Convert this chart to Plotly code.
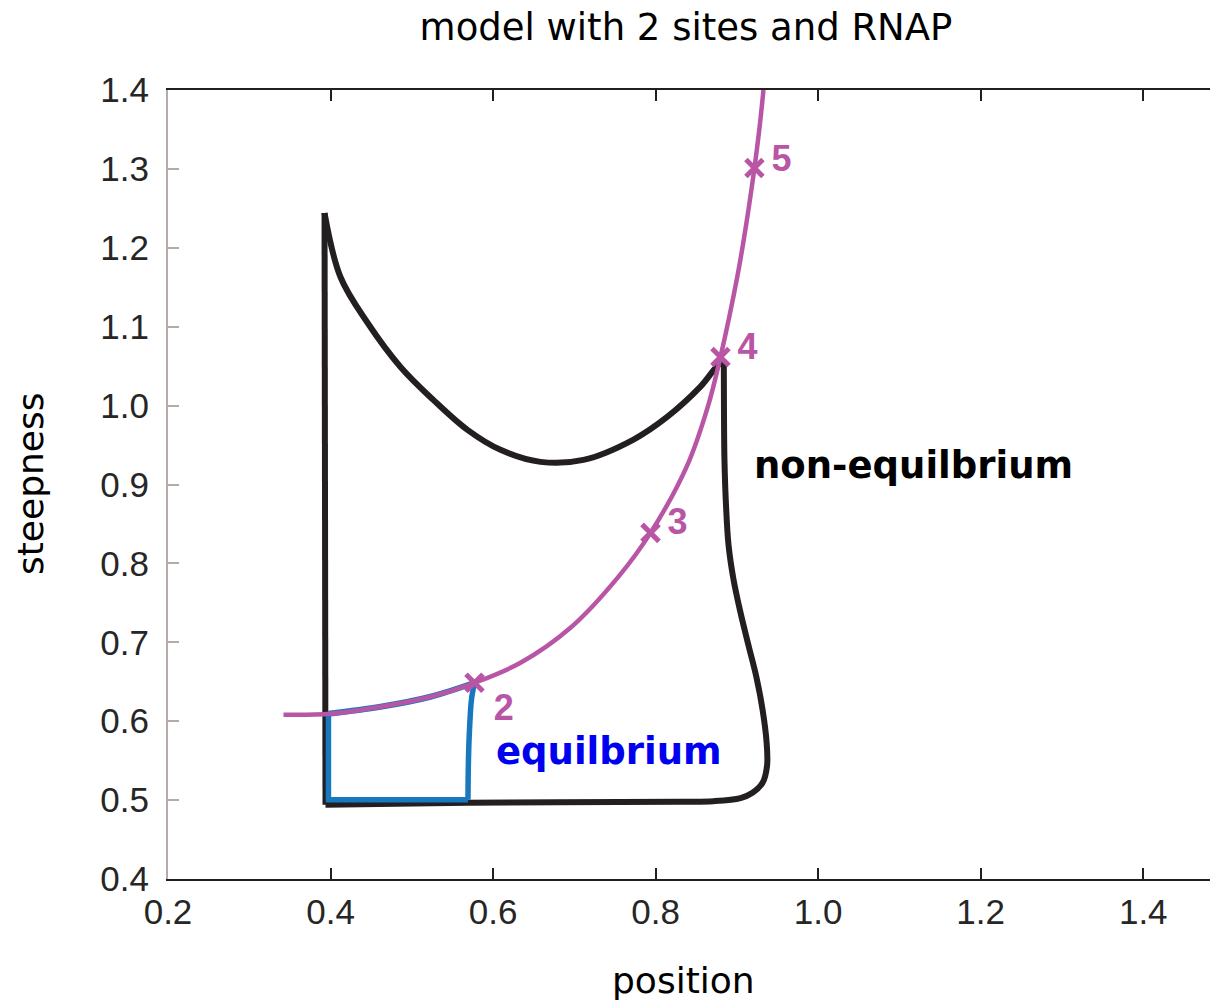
import plotly.graph_objects as go

# Black boundary (non-equilibrium region), split at its sharp corners
black_left_x = [0.3938, 0.3926]
black_left_y = [0.4941, 1.244]
black_top_x = [0.3926, 0.4122, 0.4455, 0.4861, 0.5267, 0.5685, 0.6091, 0.6583, 0.7112,
               0.7728, 0.8146, 0.8552, 0.8798, 0.8839]
black_top_y = [1.244, 1.163, 1.105, 1.049, 1.007, 0.9692, 0.9439, 0.9287, 0.9312,
               0.957, 0.986, 1.024, 1.054, 1.0537]
black_right_x = [0.8839, 0.8841, 0.8847, 0.8866, 0.8897, 0.8959, 0.9045, 0.9144, 0.9242, 0.9316,
                 0.9365, 0.9371, 0.9316, 0.9192, 0.9045, 0.8712, 0.8306, 0.5685, 0.3938]
black_right_y = [1.0537, 0.9946, 0.9312, 0.8742, 0.8235, 0.7792, 0.7374, 0.6956, 0.6550, 0.6145,
                 0.5740, 0.5435, 0.5220, 0.5093, 0.5026, 0.4986, 0.4980, 0.4967, 0.4941]

# Blue boundary (equilibrium region)
blue_box_x = [0.3974, 0.3974, 0.5691]
blue_box_y = [0.6094, 0.5005, 0.5005]
blue_side_x = [0.5691, 0.5697, 0.5710, 0.5734, 0.5771]
blue_side_y = [0.5005, 0.5512, 0.5892, 0.6272, 0.6487]
blue_top_x = [0.3974, 0.4615, 0.5230, 0.5771]
blue_top_y = [0.6094, 0.6183, 0.6310, 0.6487]

# Magenta curve
mag_x = [0.3421, 0.4000, 0.4615, 0.5230, 0.5771, 0.6337, 0.6952, 0.7531, 0.7937, 0.8392,
         0.8638, 0.8798, 0.9007, 0.9106, 0.9216, 0.9278, 0.9327]
mag_y = [0.6082, 0.6094, 0.6183, 0.6310, 0.6487, 0.6740, 0.7184, 0.7817, 0.8387, 0.9249,
         0.9971, 1.0617, 1.1644, 1.2239, 1.3012, 1.3519, 1.4000]

# Marked points
pt_x = [0.5771, 0.7937, 0.8798, 0.9216]
pt_y = [0.6487, 0.8387, 1.0617, 1.3012]
pt_labels = ["2", "3", "4", "5"]
pt_label_x = [0.613, 0.827, 0.913, 0.955]
pt_label_y = [0.613, 0.849, 1.070, 1.309]

x_ticks = [0.2, 0.4, 0.6, 0.8, 1.0, 1.2, 1.4]
y_ticks = [0.4, 0.5, 0.6, 0.7, 0.8, 0.9, 1.0, 1.1, 1.2, 1.3, 1.4]

MAG = "#b855a5"
BLK = "#231f20"
BLU = "#1878be"

fig = go.Figure()


def add_line(xs, ys, color, width, shape="linear"):
    fig.add_trace(go.Scatter(x=xs, y=ys, mode="lines", line_shape=shape,
                             line=dict(color=color, width=width), showlegend=False,
                             hoverinfo="skip"))


add_line(black_left_x, black_left_y, BLK, 6)
add_line(black_top_x, black_top_y, BLK, 6, "spline")
add_line(black_right_x, black_right_y, BLK, 6, "spline")
add_line(blue_box_x, blue_box_y, BLU, 5.5)
add_line(blue_side_x, blue_side_y, BLU, 5.5, "spline")
add_line(blue_top_x, blue_top_y, BLU, 6, "spline")
add_line(mag_x, mag_y, MAG, 4.5, "spline")

fig.add_trace(go.Scatter(x=pt_x, y=pt_y, mode="markers",
                         marker=dict(symbol="x-thin", size=17, line=dict(color=MAG, width=5), color=MAG),
                         showlegend=False))
fig.add_trace(go.Scatter(x=pt_label_x, y=pt_label_y, mode="text", text=pt_labels,
                         textfont=dict(family="Liberation Sans", size=36, color=MAG, weight="bold"),
                         showlegend=False))

plot_w = 1210 - 168
plot_h = 1002 - 90 - 123

ann = [
    dict(x=1.117, y=0.924, xref="x", yref="y", text="<b>non-equilbrium</b>", showarrow=False,
         font=dict(family="DejaVu Sans", size=37, color="black")),
    dict(x=0.743, y=0.561, xref="x", yref="y", text="<b>equilbrium</b>", showarrow=False,
         font=dict(family="DejaVu Sans", size=37, color="#0000f0")),
    dict(x=(683 - 168) / plot_w, y=-(980 - 879) / plot_h, xref="paper", yref="paper",
         text="position", showarrow=False,
         font=dict(family="DejaVu Sans", size=36, color="black"),
         xanchor="center", yanchor="middle"),
    dict(x=(30 - 168) / plot_w, y=(879 - 484) / plot_h, xref="paper", yref="paper",
         text="steepness", showarrow=False, textangle=-90,
         font=dict(family="DejaVu Sans", size=36, color="black"),
         xanchor="center", yanchor="middle"),
]

fig.update_layout(
    width=1210, height=1002,
    margin=dict(l=168, r=0, t=90, b=123, autoexpand=False),
    paper_bgcolor="white", plot_bgcolor="white",
    title=dict(text="model with 2 sites and RNAP", x=686 / 1210, xref="container",
               xanchor="center", y=1 - 27 / 1002, yref="container", yanchor="middle",
               font=dict(family="DejaVu Sans", size=37, color="black")),
    annotations=ann,
)

fig.update_xaxes(range=[0.2, 0.2 + plot_w / 812.7], tickvals=x_ticks,
                 ticktext=[f"{v:.1f}" for v in x_ticks],
                 showgrid=False, zeroline=False, showline=True, linecolor=BLK, linewidth=2,
                 mirror="ticks", ticks="inside", ticklen=11, tickwidth=2, tickcolor=BLK,
                 tickfont=dict(family="Liberation Sans", size=35, color="#262626"),
                 ticklabelstandoff=1, automargin=False)
fig.update_yaxes(range=[0.4, 1.4], tickvals=y_ticks,
                 ticktext=[f"{v:.1f}" for v in y_ticks],
                 showgrid=False, zeroline=False, showline=True, linecolor="#b8a9a9", linewidth=2,
                 ticks="inside", ticklen=11, tickwidth=2, tickcolor="#b8a9a9",
                 tickfont=dict(family="Liberation Sans", size=35, color="#262626"),
                 ticklabelstandoff=10, automargin=False)

fig.write_html("out.html")
